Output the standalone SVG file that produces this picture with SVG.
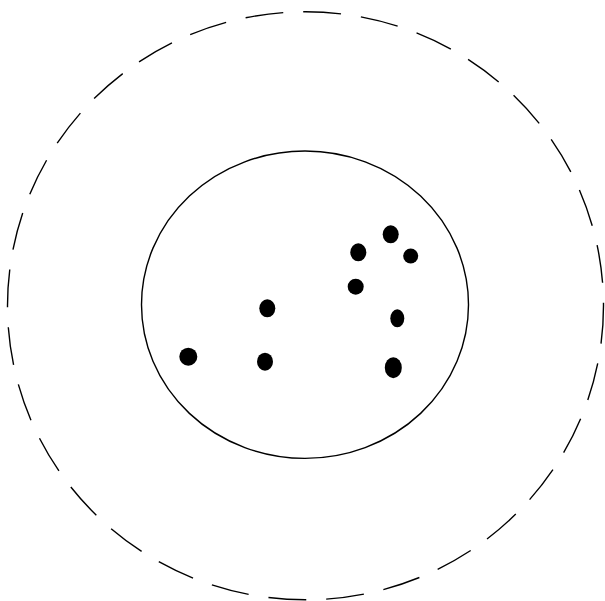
<svg xmlns="http://www.w3.org/2000/svg" width="605" height="601" viewBox="0 0 605 601">
<style>
.ring{fill:none;stroke:#000;stroke-width:1.4}
.dashed{stroke-dasharray:38 20}
.dot{fill:#000}
</style>
<rect width="605" height="601" fill="#fff"/>
<g id="outer"><ellipse class="ring dashed" cx="305.5" cy="305.8" rx="298" ry="294"/></g>
<g id="inner"><ellipse class="ring" cx="305" cy="304.7" rx="163.5" ry="153.7"/></g>
<g id="dots">
<ellipse id="d1" class="dot" cx="188.3" cy="356.7" rx="9" ry="9"/>
<ellipse id="d2" class="dot" cx="267.3" cy="308.3" rx="8" ry="9"/>
<ellipse id="d3" class="dot" cx="265" cy="361.7" rx="8" ry="9"/>
<ellipse id="d4" class="dot" cx="358.3" cy="252.3" rx="8" ry="9"/>
<ellipse id="d5" class="dot" cx="390.7" cy="234.3" rx="8" ry="9"/>
<ellipse id="d6" class="dot" cx="410.7" cy="256" rx="7.5" ry="7.5"/>
<ellipse id="d7" class="dot" cx="355.7" cy="286.7" rx="8" ry="8"/>
<ellipse id="d8" class="dot" cx="397.3" cy="318.3" rx="7" ry="9"/>
<ellipse id="d9" class="dot" cx="393.3" cy="367.7" rx="8.5" ry="10.5"/>
</g>
</svg>
